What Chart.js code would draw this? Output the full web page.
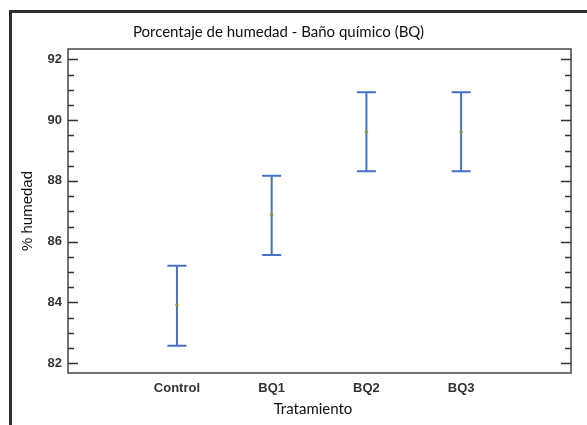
<!DOCTYPE html>
<html lang="es">
<head>
<meta charset="utf-8">
<title>Porcentaje de humedad - Baño químico (BQ)</title>
<script src="https://cdn.jsdelivr.net/npm/chart.js@4.4.0/dist/chart.umd.min.js"></script>
<style>
    html, body { margin: 0; padding: 0; background: #fff; overflow: hidden; }
    #wrap { position: relative; width: 587px; height: 425px; }
    #chart { position: absolute; left: 0; top: 0; }
    #frame {
        position: absolute; left: 9px; top: 10px;
        width: 620px; height: 460px;
        border: 3px solid #2e2e2e;
        pointer-events: none;
    }
</style>
</head>
<body>
<div id="wrap">
    <canvas id="chart" width="587" height="425"></canvas>
    <div id="frame"></div>
</div>
<script>
// Treatments and moisture intervals (mean with lower/upper limits)
const categories = ['Control', 'BQ1', 'BQ2', 'BQ3'];
const means = [83.92, 86.89, 89.61, 89.61];
const lower = [82.58, 85.56, 88.32, 88.32];
const upper = [85.21, 88.17, 90.92, 90.92];

const titleText = 'Porcentaje de humedad - Baño químico (BQ)';
const xTitleText = 'Tratamiento';
const barColor = '#4472c4';
const axisColor = '#333';

// Vertical interval bars with caps, drawn under the mean markers
const intervalPlugin = {
    id: 'intervals',
    beforeDatasetsDraw(chart) {
        const { ctx, scales: { x, y } } = chart;
        ctx.save();
        ctx.strokeStyle = barColor;
        ctx.lineWidth = 2;
        categories.forEach((c, i) => {
            const px = x.getPixelForValue(i + 1);
            const top = y.getPixelForValue(upper[i]);
            const bot = y.getPixelForValue(lower[i]);
            const half = 9.5;
            ctx.beginPath();
            ctx.moveTo(px, top);
            ctx.lineTo(px, bot);
            ctx.moveTo(px - half, top);
            ctx.lineTo(px + half, top);
            ctx.moveTo(px - half, bot);
            ctx.lineTo(px + half, bot);
            ctx.stroke();
        });
        ctx.restore();
    }
};

// Plot box, inward tick marks on both sides, heading and x caption
const framePlugin = {
    id: 'plotFrame',
    afterDraw(chart) {
        const { ctx, chartArea: a, scales: { y } } = chart;
        ctx.save();
        ctx.strokeStyle = '#444';
        ctx.lineWidth = 1.5;
        ctx.strokeRect(a.left, a.top, a.right - a.left, a.bottom - a.top);

        ctx.strokeStyle = axisColor;
        ctx.beginPath();
        y.ticks.forEach(t => {
            const py = Math.round(y.getPixelForValue(t.value)) + 0.5;
            const major = Math.abs(t.value % 2) < 1e-6;
            const len = major ? 10 : 6;
            ctx.moveTo(a.left, py);
            ctx.lineTo(a.left + len, py);
            ctx.moveTo(a.right, py);
            ctx.lineTo(a.right - len, py);
        });
        ctx.stroke();

        ctx.fillStyle = '#111';
        ctx.font = '15px Lato';
        ctx.textAlign = 'center';
        ctx.textBaseline = 'middle';
        ctx.fillText(titleText, 278.5, 32);
        ctx.fillText(xTitleText, 313, 409);
        ctx.restore();
    }
};

const tickFont = { family: 'Liberation Sans', size: 13, weight: 'bold' };

new Chart(document.getElementById('chart'), {
    type: 'scatter',
    data: {
        datasets: [{
            label: '% humedad',
            data: means.map((m, i) => ({ x: i + 1, y: m })),
            pointStyle: 'rectRot',
            pointRadius: 2,
            backgroundColor: '#8f8f3a',
            borderColor: '#8f8f3a',
            borderWidth: 0
        }]
    },
    options: {
        responsive: false,
        animation: false,
        devicePixelRatio: 1,
        layout: { padding: { top: 49, right: 16, left: 0, bottom: 0 } },
        plugins: {
            legend: { display: false },
            tooltip: { enabled: false },
            title: { display: false }
        },
        scales: {
            x: {
                type: 'linear',
                min: -0.15,
                max: 5.16,
                grid: { display: false, drawTicks: false },
                border: { display: false },
                ticks: {
                    stepSize: 1,
                    includeBounds: false,
                    autoSkip: false,
                    maxRotation: 0,
                    padding: 8,
                    color: axisColor,
                    font: tickFont,
                    callback: v => categories[v - 1] || ''
                },
                afterFit: s => { s.height = 52; }
            },
            y: {
                min: 81.68,
                max: 92.34,
                grid: { display: false, drawTicks: false },
                border: { display: false },
                ticks: {
                    stepSize: 0.5,
                    includeBounds: false,
                    autoSkip: false,
                    padding: 6,
                    color: axisColor,
                    font: tickFont,
                    callback: v => (Math.abs(v % 2) < 1e-6 ? v : '')
                },
                title: {
                    display: true,
                    text: '% humedad',
                    color: '#111',
                    font: { family: 'Liberation Sans', size: 15 },
                    padding: { top: 19, bottom: 0 }
                },
                afterFit: s => { s.width = 68; }
            }
        }
    },
    plugins: [intervalPlugin, framePlugin]
});
</script>
</body>
</html>
